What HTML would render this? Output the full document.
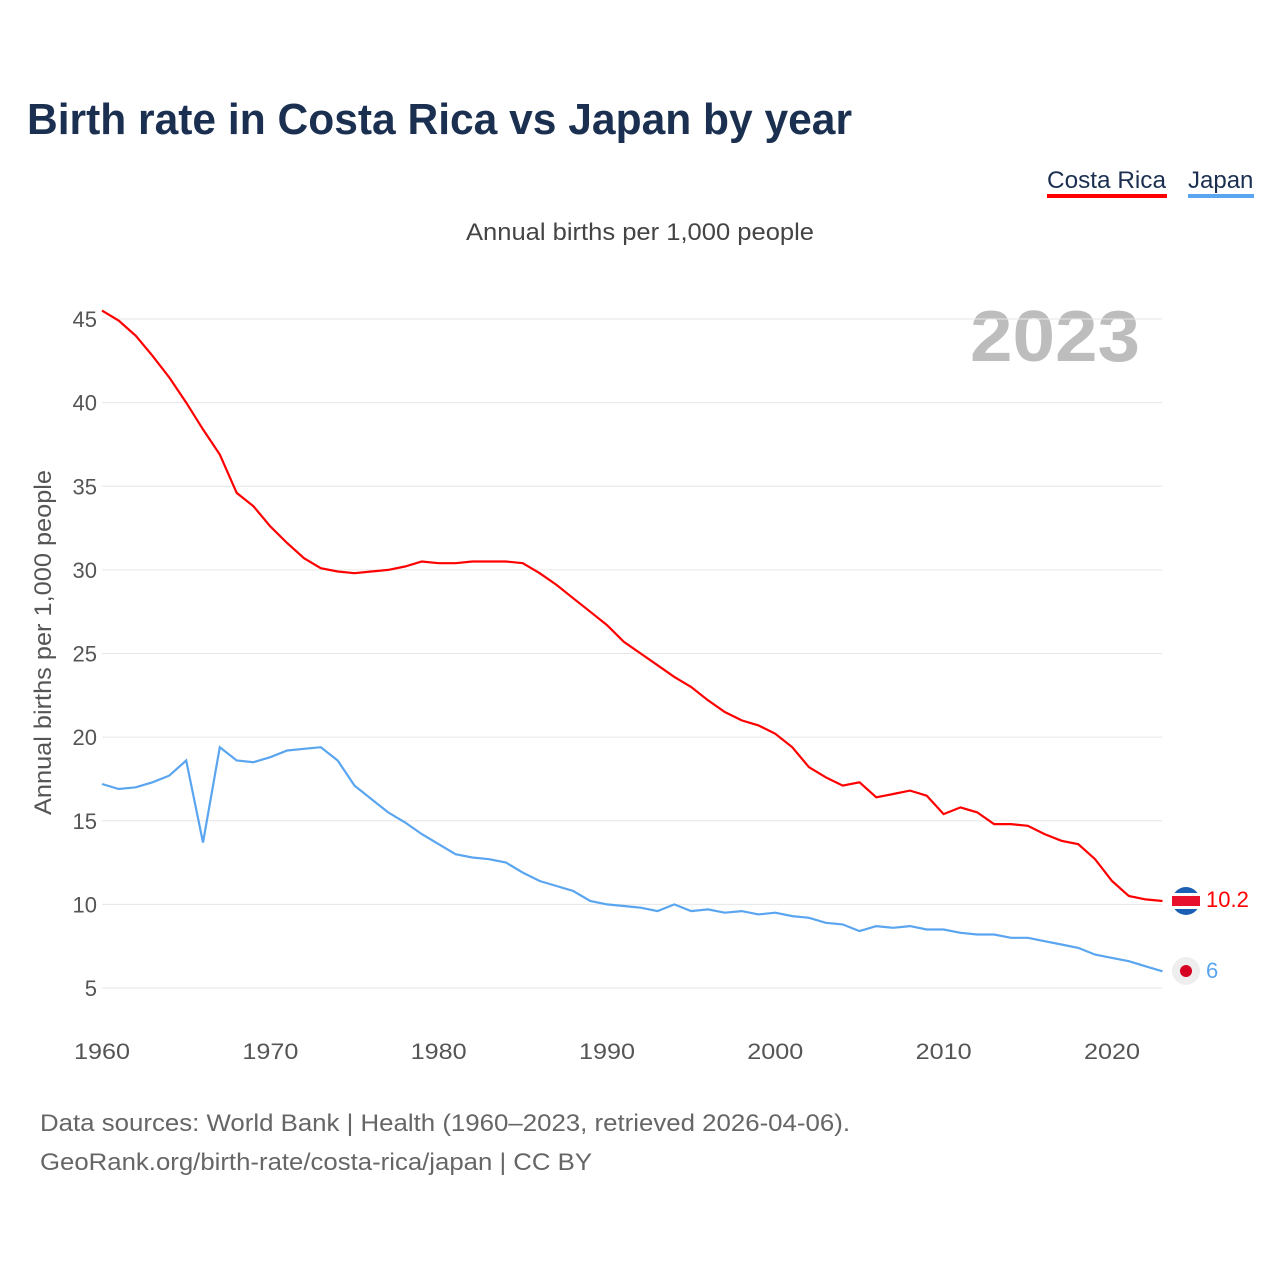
<!DOCTYPE html>
<html><head><meta charset="utf-8"><style>
html,body{margin:0;padding:0;background:#fff;width:1280px;height:1280px;overflow:hidden}
body{font-family:"Liberation Sans",sans-serif}
</style></head><body>
<svg id="s" width="1280" height="1280" xmlns="http://www.w3.org/2000/svg" font-family="Liberation Sans, sans-serif">
<text x="27" y="134" font-size="44" font-weight="bold" fill="#1b3050" textLength="825" lengthAdjust="spacingAndGlyphs">Birth rate in Costa Rica vs Japan by year</text>
<text x="1047" y="188" font-size="24" fill="#1b3050" textLength="119" lengthAdjust="spacingAndGlyphs">Costa Rica</text>
<rect x="1047" y="194" width="120" height="4" fill="#ff0000"/>
<text x="1188" y="188" font-size="24" fill="#1b3050">Japan</text>
<rect x="1188" y="194" width="66" height="4" fill="#5aa5ef"/>
<text x="466" y="240" font-size="24" fill="#444" textLength="348" lengthAdjust="spacingAndGlyphs">Annual births per 1,000 people</text>
<text x="970" y="361" font-size="72" font-weight="bold" fill="#bdbdbd" textLength="170" lengthAdjust="spacingAndGlyphs">2023</text>
<text transform="translate(51,815) rotate(-90)" font-size="24" fill="#555" textLength="345" lengthAdjust="spacingAndGlyphs">Annual births per 1,000 people</text>
<g id="grid"></g>
<g id="lines"></g>
<circle cx="1186" cy="901" r="14" fill="#1a5fb4"/>
<rect x="1172" y="896" width="28" height="10" fill="#e8112d"/>
<rect x="1172" y="893" width="28" height="3" fill="#fff"/>
<rect x="1172" y="906" width="28" height="3" fill="#fff"/>
<text x="1206" y="907" font-size="22" fill="#ff0000">10.2</text>
<circle cx="1186" cy="971" r="14" fill="#eeeeee"/>
<circle cx="1186" cy="971" r="6" fill="#d50022"/>
<text x="1206" y="978" font-size="22" fill="#5aa5ef">6</text>
<text x="40" y="1131" font-size="24" fill="#666" textLength="810" lengthAdjust="spacingAndGlyphs">Data sources: World Bank | Health (1960–2023, retrieved 2026-04-06).</text>
<text x="40" y="1170" font-size="24" fill="#666" textLength="552" lengthAdjust="spacingAndGlyphs">GeoRank.org/birth-rate/costa-rica/japan | CC BY</text>
</svg>
<script>
var X=function(y){return 102+(y-1960)*16.833},Y=function(v){return 319+(45-v)*16.725};
var g='';
for(var v=5;v<=45;v+=5){g+='<line x1="102" x2="1162" y1="'+Y(v)+'" y2="'+Y(v)+'" stroke="#e6e6e6"/>';
g+='<text x="97" y="'+(Y(v)+8)+'" font-size="22" fill="#555" text-anchor="end">'+v+'</text>';}
for(var yr=1960;yr<=2020;yr+=10)g+='<text x="'+X(yr)+'" y="1059" font-size="22" fill="#555" text-anchor="middle" textLength="56" lengthAdjust="spacingAndGlyphs">'+yr+'</text>';
var cr=[45.5,44.9,44.0,42.8,41.5,40.0,38.4,36.9,34.6,33.8,32.6,31.6,30.7,30.1,29.9,29.8,29.9,30.0,30.2,30.5,30.4,30.4,30.5,30.5,30.5,30.4,29.8,29.1,28.3,27.5,26.7,25.7,25.0,24.3,23.6,23.0,22.2,21.5,21.0,20.7,20.2,19.4,18.2,17.6,17.1,17.3,16.4,16.6,16.8,16.5,15.4,15.8,15.5,14.8,14.8,14.7,14.2,13.8,13.6,12.7,11.4,10.5,10.3,10.2];
var jp=[17.2,16.9,17.0,17.3,17.7,18.6,13.7,19.4,18.6,18.5,18.8,19.2,19.3,19.4,18.6,17.1,16.3,15.5,14.9,14.2,13.6,13.0,12.8,12.7,12.5,11.9,11.4,11.1,10.8,10.2,10.0,9.9,9.8,9.6,10.0,9.6,9.7,9.5,9.6,9.4,9.5,9.3,9.2,8.9,8.8,8.4,8.7,8.6,8.7,8.5,8.5,8.3,8.2,8.2,8.0,8.0,7.8,7.6,7.4,7.0,6.8,6.6,6.3,6.0];
function p(a){return a.map(function(v,i){return (i?'L':'M')+X(1960+i).toFixed(1)+','+Y(v).toFixed(1)}).join('')}
document.getElementById('grid').innerHTML=g;
document.getElementById('lines').innerHTML='<path d="'+p(jp)+'" fill="none" stroke="#5aa5ef" stroke-width="2.2"/><path d="'+p(cr)+'" fill="none" stroke="#ff0000" stroke-width="2.2"/>';
</script>
</body></html>
